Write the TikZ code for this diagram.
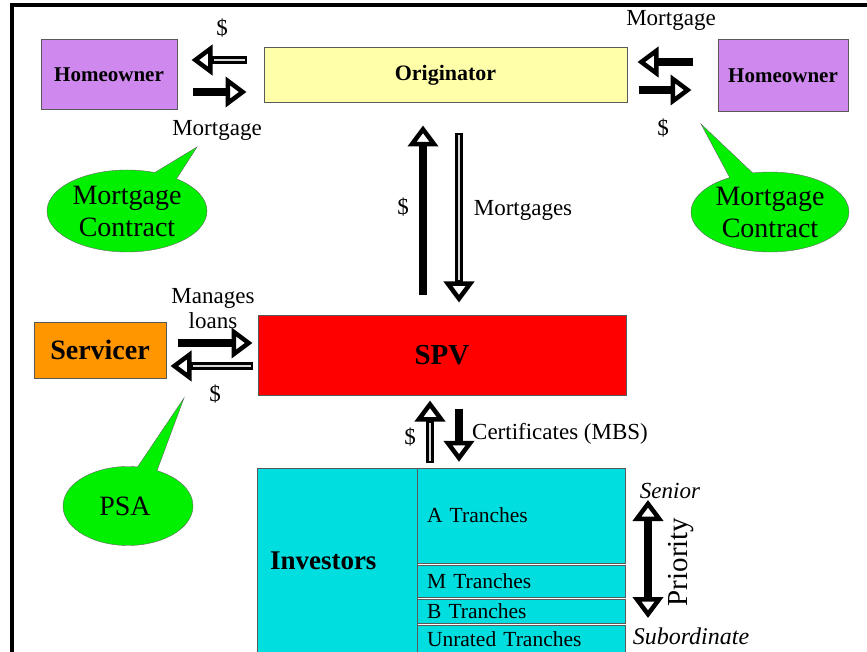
\documentclass[tikz,border=0pt]{standalone}
\usepackage{fontspec}
\setmainfont{Liberation Serif}
\usetikzlibrary{arrows.meta,shapes.callouts}

\definecolor{homepurple}{RGB}{206,136,238}
\definecolor{origyellow}{RGB}{255,255,170}
\definecolor{servorange}{RGB}{255,150,0}
\definecolor{spvred}{RGB}{255,0,0}
\definecolor{invcyan}{RGB}{0,222,224}
\definecolor{bubblegreen}{RGB}{0,240,0}

\tikzset{
    box/.style={draw=black!65, line width=1pt, inner sep=0pt},
    flow/.style={line width=8.5pt, -{Triangle[open,length=21pt,width=30pt,line width=4.5pt]}},
    twoway/.style={line width=8.5pt, {Triangle[open,length=21pt,width=30pt,line width=4.5pt]}-{Triangle[open,length=21pt,width=30pt,line width=4.5pt]}},
    hollow/.style 2 args={postaction={draw=gray!30, line width=2.5pt, -, shorten <=#1, shorten >=#2}},
    lbl/.style={font=\fontsize{23}{25}\selectfont, inner sep=0pt, align=center},
    bubble/.style={ellipse callout, draw=black!60, fill=bubblegreen, inner sep=0pt, callout pointer arc=18},
    bubbletext/.style={font=\fontsize{28}{32}\selectfont, align=center, inner sep=0pt},
    tranche/.style={draw=black!65, fill=invcyan, minimum width=208pt, inner ysep=0pt, inner xsep=10pt,
        text width=188pt, align=left, font=\fontsize{21.5}{24}\selectfont}
}

\begin{document}
\begin{tikzpicture}[x=1pt, y=-1pt]
    \useasboundingbox (0,0) rectangle (867,652);
    \clip (0,0) rectangle (867,652);

    % Frame
    \draw[line width=4pt] (12,654) -- (12,5) -- (870,5);

    % Parties
    \node[box, fill=homepurple, minimum width=136pt, minimum height=70pt,
        font=\fontsize{21}{24}\selectfont\bfseries] (howl) at (109,75) {Homeowner};
    \node[box, fill=origyellow, minimum width=363pt, minimum height=55pt,
        font=\fontsize{22}{25}\selectfont\bfseries] (orig) at (445.5,75.5) {Originator};
    \node[box, fill=homepurple, minimum width=130pt, minimum height=72pt,
        font=\fontsize{21}{24}\selectfont\bfseries] (howr) at (783,76) {Homeowner};
    \node[box, fill=servorange, minimum width=132pt, minimum height=56pt,
        font=\fontsize{28}{31}\selectfont\bfseries] (serv) at (100,350) {Servicer};
    \node[box, fill=spvred, minimum width=368pt, minimum height=80pt,
        font=\fontsize{29}{32}\selectfont\bfseries] (spv) at (442,355) {SPV};

    % Investors and tranches
    \node[box, fill=invcyan, minimum width=160pt, minimum height=186pt, inner xsep=13pt,
        text width=134pt, align=left, font=\fontsize{27}{30}\selectfont\bfseries] (inv) at (337,561) {Investors};
    \foreach \name/\y/\h/\txt in {trA/515.5/95/A Tranches, trM/581/32/M Tranches,
        trB/611/24/B Tranches, trU/639.5/29/Unrated Tranches} {
        \node[tranche, minimum height=\h pt] (\name) at (521,\y) {\txt};
    }

    % Flows between homeowners and originator
    \draw[flow, shorten <=17pt, shorten >=14pt, hollow={19pt}{36pt}] (orig.west |- 0,60) -- (howl.east |- 0,60);
    \draw[flow, shorten <=15pt, shorten >=17pt] (howl.east |- 0,92) -- (orig.west |- 0,92);
    \draw[flow, shorten <=25pt, shorten >=10pt] (howr.west |- 0,62) -- (orig.east |- 0,62);
    \draw[flow, shorten <=11pt, shorten >=26pt] (orig.east |- 0,90) -- (howr.west |- 0,90);

    % Originator and SPV
    \draw[flow, shorten <=20pt, shorten >=22pt] (spv.north -| 423,0) -- (orig.south -| 423,0);
    \draw[flow, shorten <=30pt, shorten >=12pt, hollow={32pt}{34pt}] (orig.south -| 459,0) -- (spv.north -| 459,0);

    % Servicer and SPV
    \draw[flow, shorten <=11pt, shorten >=5pt] (serv.east |- 0,343) -- (spv.west |- 0,343);
    \draw[flow, shorten <=5pt, shorten >=4pt, hollow={7pt}{26pt}] (spv.west |- 0,366) -- (serv.east |- 0,366);

    % SPV and investors
    \draw[flow, shorten <=5pt, shorten >=5pt, hollow={7pt}{27pt}] (trA.north -| 430,0) -- (spv.south -| 430,0);
    \draw[flow, shorten <=13pt, shorten >=6pt] (spv.south -| 459,0) -- (trA.north -| 459,0);

    % Labels
    \node[lbl] (dolA) at (222,28) {\$};
    \node[lbl] (mtgA) at (217,130) {Mortgage};
    \node[lbl] (mtgB) at (671,20) {Mortgage};
    \node[lbl] (dolB) at (663,128) {\$};
    \node[lbl] (dolC) at (403,207) {\$};
    \node[lbl] (mtgC) at (523,210) {Mortgages};
    \node[lbl] (mngD) at (213,309) {Manages\\loans};
    \node[lbl] (dolD) at (215,394) {\$};
    \node[lbl] (dolE) at (410,437) {\$};
    \node[lbl] (cert) at (560,434) {Certificates (MBS)};

    % Callouts
    \node[bubble, minimum width=160pt, minimum height=82pt, callout absolute pointer={(197,147)}] (ctrL) at (127,211) {};
    \node[bubbletext] at (ctrL.center) {Mortgage\\Contract};
    \node[bubble, minimum width=158pt, minimum height=80pt, callout absolute pointer={(701,124)}] (ctrR) at (770,212) {};
    \node[bubbletext] at (ctrR.center) {Mortgage\\Contract};
    \node[bubble, minimum width=130pt, minimum height=79pt, callout absolute pointer={(184,398)}] (psa) at (128,506) {};
    \node[bubbletext] at (125,506) {PSA};

    % Priority scale
    \node[lbl, font=\fontsize{23}{25}\selectfont\itshape] (sen) at (670,491) {Senior};
    \node[lbl, font=\fontsize{24}{26}\selectfont\itshape] (sub) at (691,636) {Subordinate};
    \node[lbl, font=\fontsize{29}{31}\selectfont, rotate=90] (prio) at (681,562) {Priority};
    \coordinate (ptop) at (648,500);
    \coordinate (pbot) at (648,618);
    \draw[twoway] (ptop) -- (pbot);
\end{tikzpicture}
\end{document}
